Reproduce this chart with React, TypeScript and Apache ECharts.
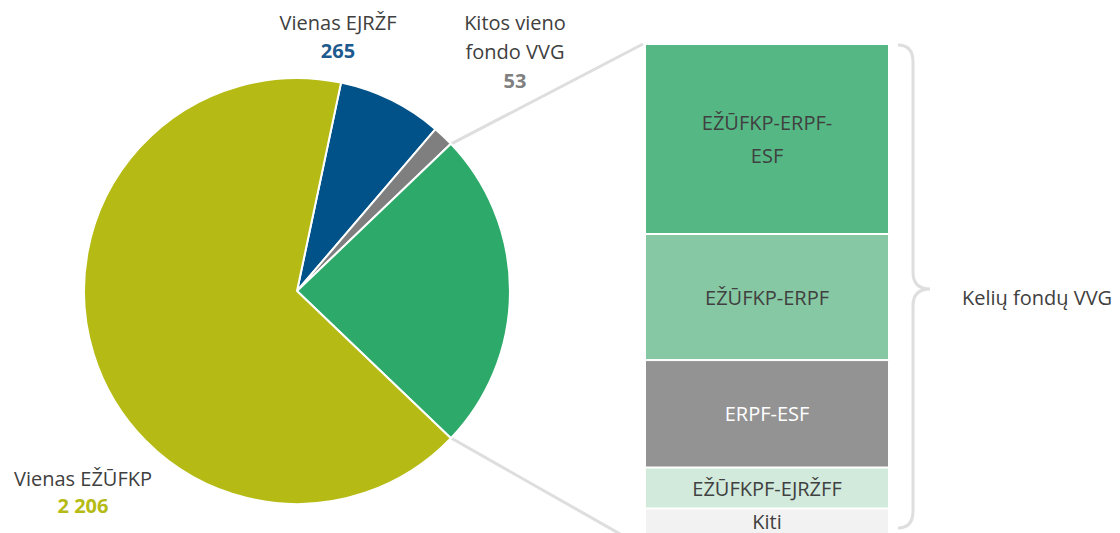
import React, { useEffect, useRef } from "react";
import * as echarts from "echarts";

const pieNames = ["Vienas EJRŽF", "Kitos vieno fondo VVG", "Kelių fondų VVG", "Vienas EŽŪFKP"];
const pieValues = [265, 53, 810, 2206];
const pieColors = ["#005288", "#7f7f7f", "#2daa6a", "#b5bb14"];
const pieLabelColors = ["#1d5a8e", "#808080", "#2daa6a", "#b5bb14"];

const barNames = ["EŽŪFKP-ERPF-ESF", "EŽŪFKP-ERPF", "ERPF-ESF", "EŽŪFKPF-EJRŽFF", "Kiti"];
const barLabels = ["EŽŪFKP-ERPF-\nESF", "EŽŪFKP-ERPF", "ERPF-ESF", "EŽŪFKPF-EJRŽFF", "Kiti"];
const barValues = [306, 203, 173, 66, 62];
const barColors = ["#55b884", "#86c8a3", "#939393", "#d2eadc", "#f2f2f2"];
const barTextColors = ["#404040", "#404040", "#ffffff", "#404040", "#404040"];

const FONT = "'Open Sans', sans-serif";
const TEXT = "#404040";

function fmt(v: number): string {
  return String(v).replace(/\B(?=(\d{3})+(?!\d))/g, " ");
}

export default function App() {
  const ref = useRef<HTMLDivElement>(null);
  useEffect(() => {
    if (!ref.current) return;
    const chart = echarts.init(ref.current, undefined, { renderer: "svg" });

    const cx = 297, cy = 291, r = 213;
    const total = pieValues.reduce((a, b) => a + b, 0);
    const deg = (v: number) => (v / total) * 360;
    const startAngle = deg(pieValues[0]) + deg(pieValues[1]) + deg(pieValues[2]) / 2;
    const half = (deg(pieValues[2]) / 2) * Math.PI / 180;
    const rr = r - 1;
    const pTop = [cx + rr * Math.cos(half), cy - rr * Math.sin(half)];
    const pBot = [cx + rr * Math.cos(half), cy + rr * Math.sin(half)];

    const gLeft = 645, gTop = 44, gW = 244, gH = 503;
    const barTotal = barValues.reduce((a, b) => a + b, 0);

    const braceD = "M898,45 Q913,45 913,62 L913,272 Q913,289 930,289 Q913,289 913,306 L913,511 Q913,528 898,528";
    echarts.graphic.registerShape("brace", echarts.graphic.extendPath(braceD, {}) as any);

    const txt = (x: number, y: number, text: string, color: string, bold = false, align = "center") => ({
      type: "text",
      x,
      y,
      style: {
        text,
        fill: color,
        font: `${bold ? "bold " : ""}20px ${FONT}`,
        align,
        verticalAlign: "middle",
      },
    });

    chart.setOption({
      animation: false,
      backgroundColor: "#ffffff",
      grid: { left: gLeft, top: gTop, width: gW, height: gH, outerBoundsMode: "none", containLabel: false },
      xAxis: { type: "category", data: ["Kelių fondų VVG"], show: false },
      yAxis: { type: "value", inverse: true, min: 0, max: barTotal, show: false },
      series: [
        {
          type: "pie",
          center: [cx, cy],
          radius: r,
          startAngle,
          clockwise: true,
          silent: true,
          label: { show: false },
          labelLine: { show: false },
          itemStyle: { borderColor: "#ffffff", borderWidth: 2 },
          data: pieNames.map((n, i) => ({ name: n, value: pieValues[i], itemStyle: { color: pieColors[i] } })),
        },
        ...barNames.map((n, i) => ({
          type: "bar",
          name: n,
          stack: "k",
          barWidth: "100%",
          data: [barValues[i]],
          itemStyle: { color: barColors[i], borderColor: "#ffffff", borderWidth: 1 },
          label: {
            show: true,
            position: "inside",
            offset: i === barNames.length - 1 ? [0, -6] : [0, 0],
            formatter: barLabels[i],
            color: barTextColors[i],
            fontFamily: FONT,
            fontSize: 20,
            lineHeight: i === barNames.length - 1 ? 22 : 33,
          },
        })),
      ],
      graphic: [
        {
          type: "line",
          shape: { x1: pTop[0], y1: pTop[1], x2: gLeft - 2, y2: gTop },
          style: { stroke: "#dedede", lineWidth: 3 },
          z: -1,
        },
        {
          type: "line",
          shape: { x1: pBot[0], y1: pBot[1], x2: gLeft - 2, y2: gTop + gH },
          style: { stroke: "#dedede", lineWidth: 3 },
          z: -1,
        },
        {
          type: "brace",
          x: 0,
          y: 0,
          style: { stroke: "#dedede", lineWidth: 3, fill: "none" },
        },
        txt(962, 297, pieNames[2], TEXT, false, "left"),
        txt(338, 22, pieNames[0], TEXT),
        txt(338, 50, fmt(pieValues[0]), pieLabelColors[0], true),
        txt(515, 22, "Kitos vieno", TEXT),
        txt(515, 51, "fondo VVG", TEXT),
        txt(515, 80, fmt(pieValues[1]), pieLabelColors[1], true),
        txt(83, 478, pieNames[3], TEXT),
        txt(83, 505, fmt(pieValues[3]), pieLabelColors[3], true),
      ],
    });
    return () => chart.dispose();
  }, []);
  return (
    <div
      ref={ref}
      style={{ position: "fixed", left: 0, top: 0, width: 1120, height: 533, overflow: "hidden" }}
    />
  );
}
